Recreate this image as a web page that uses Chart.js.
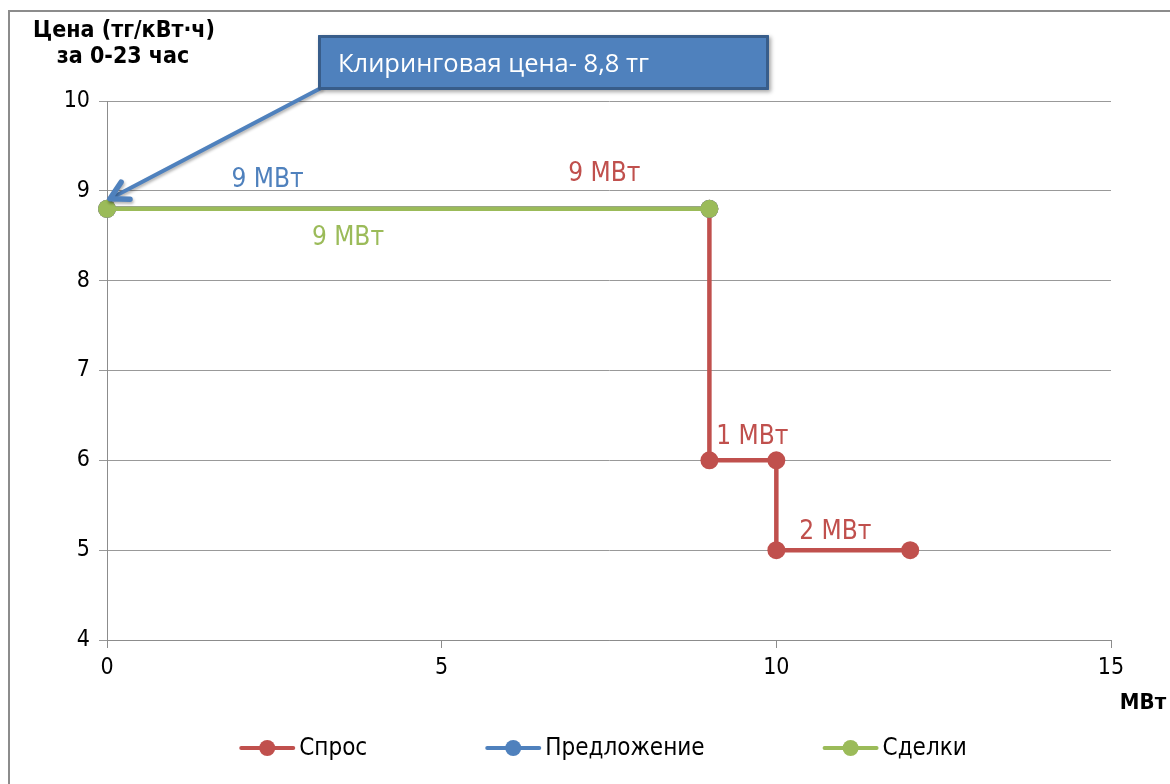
<!DOCTYPE html>
<html>
<head>
<meta charset="utf-8">
<script src="https://cdn.jsdelivr.net/npm/chart.js@4"></script>
<style>
  html, body { margin: 0; padding: 0; background: #fff; }
  #wrap { width: 1170px; height: 784px; position: relative; }
</style>
</head>
<body>
<div id="wrap"><canvas id="chart" width="1170" height="784"></canvas></div>
<script>
// data
const seriesNames = ['Спрос', 'Предложение', 'Сделки']
const seriesColors = ['#C0504D', '#4F81BD', '#9BBB59']
const demandX = [0, 9, 9, 10, 10, 12]
const demandY = [8.8, 8.8, 6, 6, 5, 5]
const supplyX = [0, 9]
const supplyY = [8.8, 8.8]
const dealsX = [0, 9]
const dealsY = [8.8, 8.8]
const xTicks = [0, 5, 10, 15]
const yTicks = [4, 5, 6, 7, 8, 9, 10]
const yTitle = ['Цена (тг/кВт·ч)', 'за 0-23 час']
const xTitle = 'МВт'
const clearingText = 'Клиринговая цена- 8,8 тг'
const clearingPrice = 8.8
// volume labels: text, series index, anchor in data units
const volumeLabels = [
    ['9 МВт', 1, 2.4, 9.12],
    ['9 МВт', 0, 7.43, 9.18],
    ['9 МВт', 2, 3.6, 8.47],
    ['1 МВт', 0, 9.64, 6.26],
    ['2 МВт', 0, 10.88, 5.2]
]

const FONT = "'DejaVu Sans Condensed', 'Roboto Condensed', 'DejaVu Sans', sans-serif"

function toPoints(xs, ys){
    return xs.map((x, i) => ({x: x, y: ys[i]}))
}

function makeSet(idx, xs, ys, order){
    return {
        label: seriesNames[idx],
        data: toPoints(xs, ys),
        borderColor: seriesColors[idx],
        backgroundColor: seriesColors[idx],
        showLine: true,
        borderWidth: 4.5,
        pointRadius: 9,
        pointHoverRadius: 9,
        pointBorderWidth: 0,
        tension: 0,
        clip: false,
        order: order
    }
}

const decor = {
    id: 'decor',
    afterDraw(chart){
        const c = chart.ctx
        const xs = chart.scales.x, ys = chart.scales.y
        c.save()

        // outer frame
        c.strokeStyle = '#8c8c8c'
        c.lineWidth = 2
        c.strokeRect(9, 11, 1200, 800)

        // axis titles
        c.fillStyle = '#000'
        c.font = "bold 23px " + FONT
        c.textAlign = 'center'
        c.textBaseline = 'middle'
        c.fillText(yTitle[0], 124, 31)
        c.fillText(yTitle[1], 123, 57)
        c.font = "bold 22px " + FONT
        c.fillText(xTitle, 1143, 703)

        // volume labels
        c.font = "26px " + FONT
        volumeLabels.forEach(l => {
            c.fillStyle = seriesColors[l[1]]
            c.fillText(l[0], xs.getPixelForValue(l[2]), ys.getPixelForValue(l[3]))
        })

        // arrow from callout to clearing point
        const tipX = xs.getPixelForValue(0) + 3
        const tipY = ys.getPixelForValue(clearingPrice) - 10
        const fromX = 321, fromY = 88
        c.shadowColor = 'rgba(0,0,0,0.3)'
        c.shadowBlur = 3
        c.shadowOffsetX = 1
        c.shadowOffsetY = 2
        c.strokeStyle = '#4F81BD'
        c.lineWidth = 4
        c.lineCap = 'round'
        c.lineJoin = 'round'
        c.beginPath()
        c.moveTo(fromX, fromY)
        c.lineTo(tipX, tipY)
        c.stroke()
        const ang = Math.atan2(tipY - fromY, tipX - fromX)
        c.lineWidth = 5.5
        c.beginPath()
        c.moveTo(tipX - 20 * Math.cos(ang - 0.5), tipY - 20 * Math.sin(ang - 0.5))
        c.lineTo(tipX, tipY)
        c.lineTo(tipX - 20 * Math.cos(ang + 0.5), tipY - 20 * Math.sin(ang + 0.5))
        c.stroke()

        // callout box
        c.shadowColor = 'rgba(0,0,0,0.35)'
        c.shadowBlur = 4
        c.shadowOffsetX = 2
        c.shadowOffsetY = 2
        c.fillStyle = '#4F81BD'
        c.fillRect(318, 35, 451, 55)
        c.shadowColor = 'transparent'
        c.strokeStyle = '#385D8A'
        c.lineWidth = 3
        c.strokeRect(319.5, 36.5, 448, 52)
        c.fillStyle = '#fff'
        c.font = "25.5px 'Open Sans', sans-serif"
        c.textAlign = 'left'
        c.fillText(clearingText, 338, 65)

        // legend
        c.font = "24px " + FONT
        const iconW = 56, gap = 4, spacing = 118
        const widths = seriesNames.map(n => iconW + gap + c.measureText(n).width)
        const total = widths.reduce((a, b) => a + b, 0) + spacing * (seriesNames.length - 1)
        let x = 603 - total / 2
        const y = 748
        seriesNames.forEach((n, i) => {
            c.strokeStyle = seriesColors[i]
            c.fillStyle = seriesColors[i]
            c.lineWidth = 4
            c.lineCap = 'round'
            c.beginPath()
            c.moveTo(x + 2, y)
            c.lineTo(x + iconW - 2, y)
            c.stroke()
            c.beginPath()
            c.arc(x + iconW / 2, y, 8, 0, Math.PI * 2)
            c.fill()
            c.fillStyle = '#000'
            c.textAlign = 'left'
            c.fillText(n, x + iconW + gap, y + 1)
            x += widths[i] + spacing
        })
        c.restore()
    }
}

new Chart(document.getElementById('chart'), {
    type: 'scatter',
    data: {
        datasets: [
            makeSet(0, demandX, demandY, 3),
            makeSet(1, supplyX, supplyY, 2),
            makeSet(2, dealsX, dealsY, 1)
        ]
    },
    options: {
        responsive: false,
        animation: false,
        events: [],
        layout: { padding: { top: 101, right: 59, left: 0, bottom: 0 } },
        plugins: {
            legend: { display: false },
            tooltip: { enabled: false }
        },
        scales: {
            x: {
                type: 'linear',
                min: 0, max: 15,
                afterBuildTicks: s => { s.ticks = xTicks.map(v => ({value: v})) },
                afterFit: s => { s.height = 144 },
                grid: { drawOnChartArea: false, tickLength: 8, color: '#8c8c8c' },
                border: { color: '#8c8c8c', width: 1 },
                ticks: { color: '#000', font: { size: 23, family: FONT }, padding: 6 }
            },
            y: {
                min: 4, max: 10,
                afterBuildTicks: s => { s.ticks = yTicks.map(v => ({value: v})) },
                afterFit: s => { s.width = 107 },
                grid: { color: '#999', tickLength: 8 },
                border: { color: '#8c8c8c', width: 1 },
                ticks: { color: '#000', font: { size: 23, family: FONT }, padding: 9 }
            }
        }
    },
    plugins: [decor]
});
</script>
</body>
</html>
